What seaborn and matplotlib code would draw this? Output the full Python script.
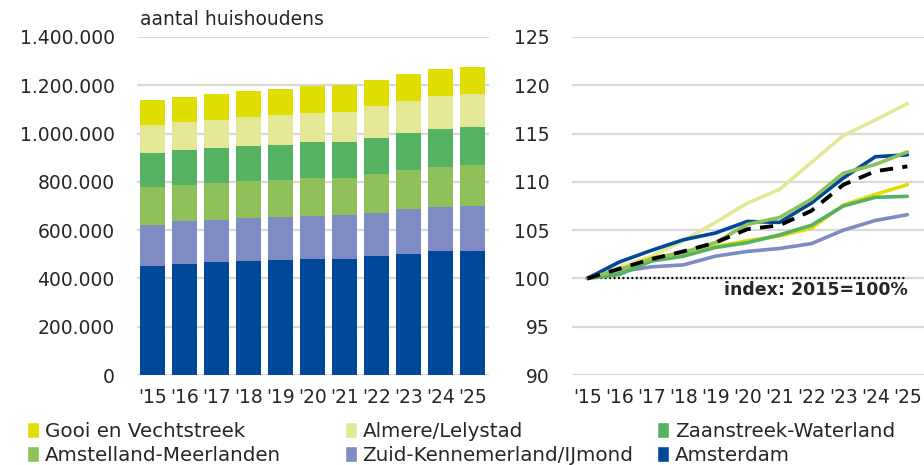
import numpy as np
import pandas as pd
import matplotlib
matplotlib.use("Agg")
import matplotlib.pyplot as plt
from matplotlib.ticker import FuncFormatter
from matplotlib.patches import Patch
import seaborn as sns

# %% Data
years = ["'15", "'16", "'17", "'18", "'19", "'20", "'21", "'22", "'23", "'24", "'25"]
regions = ["Amsterdam", "Zuid-Kennemerland/IJmond", "Amstelland-Meerlanden",
           "Zaanstreek-Waterland", "Almere/Lelystad", "Gooi en Vechtstreek"]

# households, thousands
hh_amsterdam = [453, 461, 468, 474, 477, 482, 482, 491, 503, 513, 514]
hh_zuid = [170, 175, 175, 176, 177, 176, 179, 179, 183, 183, 185]
hh_amstelland = [155, 152, 151, 153, 154, 159, 156, 163, 162, 167, 170]
hh_zaanstreek = [142, 142, 146, 144, 146, 148, 149, 149, 156, 154, 157]
hh_almere = [117, 118, 118, 122, 123, 121, 124, 131, 132, 137, 136]
hh_gooi = [102, 103, 106, 106, 108, 111, 113, 109, 111, 112, 113]

# index 2015 = 100
idx_amsterdam = [100, 101.7, 102.9, 104.0, 104.7, 105.9, 105.8, 107.8, 110.4, 112.6, 112.8]
idx_zuid = [100, 100.7, 101.2, 101.4, 102.3, 102.8, 103.1, 103.6, 105.0, 106.0, 106.6]
idx_amstelland = [100, 100.9, 102.0, 102.7, 103.7, 105.6, 106.3, 108.2, 110.9, 111.8, 113.1]
idx_zaanstreek = [100, 100.4, 101.8, 102.3, 103.2, 103.7, 104.5, 105.5, 107.5, 108.4, 108.5]
idx_almere = [100, 101.2, 102.3, 103.9, 105.8, 107.8, 109.2, 112.0, 114.8, 116.4, 118.1]
idx_gooi = [100, 100.9, 102.1, 102.7, 103.3, 103.9, 104.4, 105.2, 107.6, 108.7, 109.7]
idx_totaal = [100, 101.0, 102.0, 102.8, 103.7, 105.1, 105.5, 107.0, 109.7, 111.1, 111.6]

colors = {
    "Amsterdam": "#00489a",
    "Zuid-Kennemerland/IJmond": "#7f8bc3",
    "Amstelland-Meerlanden": "#8fc05a",
    "Zaanstreek-Waterland": "#55b263",
    "Almere/Lelystad": "#e4e796",
    "Gooi en Vechtstreek": "#e0dd00",
}

# %% Style
sns.set_style("white")
plt.rcParams["font.family"] = ["DejaVu Sans"]
FS = 13.5
GRID = "#d9d9d9"

fig = plt.figure(figsize=(9.24, 4.65), dpi=100)
ax1 = fig.add_axes([0.148, 0.1935, 0.381, 0.727])
ax2 = fig.add_axes([0.619, 0.1935, 0.381, 0.727])

# %% Left: stacked bars (cumulative overlay, tallest first)
hh = pd.DataFrame({
    "Amsterdam": hh_amsterdam,
    "Zuid-Kennemerland/IJmond": hh_zuid,
    "Amstelland-Meerlanden": hh_amstelland,
    "Zaanstreek-Waterland": hh_zaanstreek,
    "Almere/Lelystad": hh_almere,
    "Gooi en Vechtstreek": hh_gooi,
}, index=years) * 1000
cum = hh.cumsum(axis=1)

for reg in regions[::-1]:
    sns.barplot(x=years, y=cum[reg].values, color=colors[reg], saturation=1,
                width=0.78, linewidth=0, ax=ax1)

ax1.set_ylim(0, 1400000)
ax1.set_xlim(-0.48, 10.5)
ax1.set_yticks(np.arange(0, 1400001, 200000))
ax1.yaxis.set_major_formatter(FuncFormatter(lambda v, p: f"{v:,.0f}".replace(",", ".")))
ax1.yaxis.grid(True, color=GRID, lw=1.6)
ax1.set_axisbelow(True)
ax1.text(0.01, 1.025, "aantal huishoudens", transform=ax1.transAxes,
         fontsize=FS, va="bottom", ha="left")

# %% Right: index lines
idx = pd.DataFrame({
    "Zuid-Kennemerland/IJmond": idx_zuid,
    "Almere/Lelystad": idx_almere,
    "Gooi en Vechtstreek": idx_gooi,
    "Zaanstreek-Waterland": idx_zaanstreek,
    "Amsterdam": idx_amsterdam,
    "Amstelland-Meerlanden": idx_amstelland,
})
idx["pos"] = range(len(years))
long = idx.melt(id_vars="pos", var_name="regio", value_name="index")
sns.lineplot(data=long, x="pos", y="index", hue="regio", palette=colors,
             lw=2.6, legend=False, ax=ax2)
sns.lineplot(x=range(len(years)), y=idx_totaal, color="black", lw=2.8,
             linestyle=(0, (3.4, 2.4)), ax=ax2)
ax2.hlines(100, 0, len(years) - 1, colors="black", linestyles=(0, (0.8, 1.2)),
           lw=1.6, zorder=1)
ax2.text(len(years) - 1, 98.8, "index: 2015=100%", fontsize=12.5,
         fontweight="bold", ha="right", va="center")

ax2.set_ylim(90, 125)
ax2.set_xlim(-0.48, 10.52)
ax2.set_yticks(np.arange(90, 126, 5))
ax2.set_xticks(range(len(years)))
ax2.set_xticklabels(years)
ax2.yaxis.grid(True, color=GRID, lw=1.6)
ax2.set_axisbelow(True)
ax2.set_xlabel("")
ax2.set_ylabel("")

for ax in (ax1, ax2):
    for s in ax.spines.values():
        s.set_visible(False)
    ax.tick_params(axis="y", length=0, pad=16, labelsize=FS)
    ax.tick_params(axis="x", length=0, pad=9, labelsize=FS)

# %% Legend: three fixed columns, two rows each
legend_cols = [
    (0.029, ["Gooi en Vechtstreek", "Amstelland-Meerlanden"]),
    (0.373, ["Almere/Lelystad", "Zuid-Kennemerland/IJmond"]),
    (0.711, ["Zaanstreek-Waterland", "Amsterdam"]),
]
for xpos, names in legend_cols:
    handles = [Patch(facecolor=colors[r], label=r) for r in names]
    fig.legend(handles=handles, loc="upper left", bbox_to_anchor=(xpos, 0.092),
               frameon=False, fontsize=14.3, handlelength=0.6, handleheight=0.85,
               handletextpad=0.3, labelspacing=0.25, borderpad=0, borderaxespad=0)

fig.savefig("out.png", dpi=100)
